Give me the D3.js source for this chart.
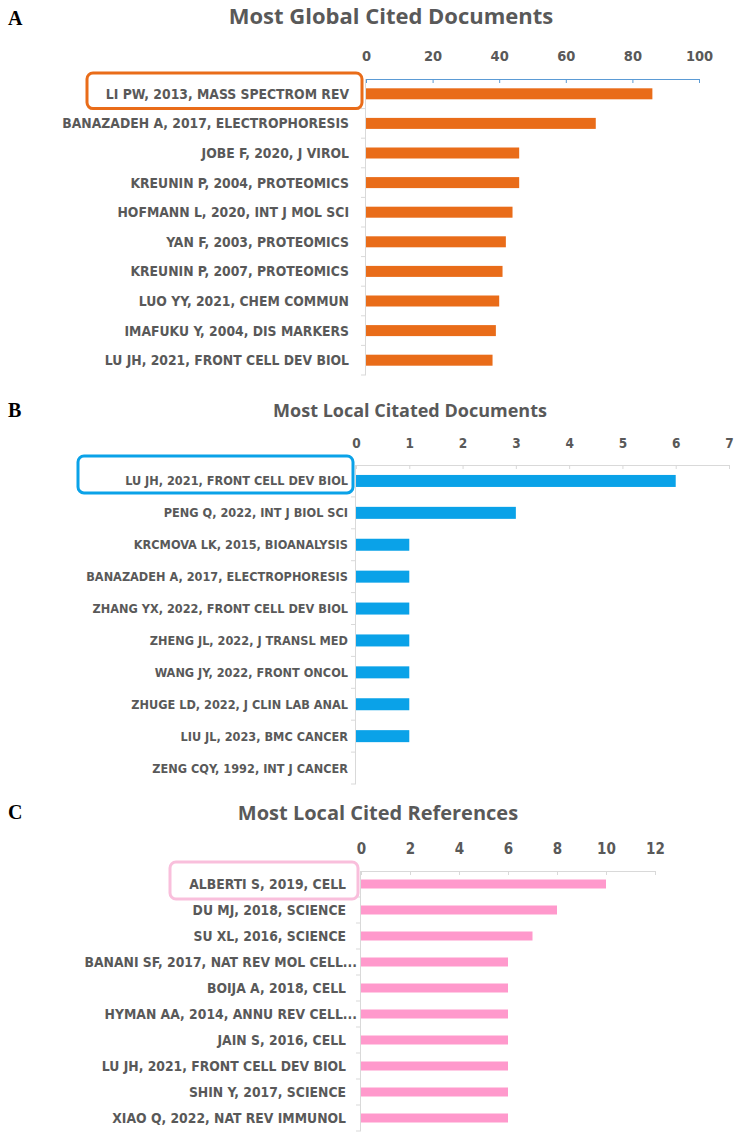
<!DOCTYPE html>
<html>
<head>
<meta charset="utf-8">
<script src="https://cdn.jsdelivr.net/npm/d3@7"></script>
<style>
  body { margin: 0; background: #fff; }
  svg { display: block; }
  .lab { font-family: "Liberation Sans Narrow", "DejaVu Sans Condensed", "Arial Narrow", sans-serif; font-weight: bold; fill: #595959; }
  .letter { font-family: "Liberation Serif", "Times New Roman", serif; font-weight: bold; fill: #000; }
</style>
</head>
<body>
<svg id="chart" width="734" height="1134"></svg>
<script>
// panel A
const globalDocs = [
  'LI PW, 2013, MASS SPECTROM REV',
  'BANAZADEH A, 2017, ELECTROPHORESIS',
  'JOBE F, 2020, J VIROL',
  'KREUNIN P, 2004, PROTEOMICS',
  'HOFMANN L, 2020, INT J MOL SCI',
  'YAN F, 2003, PROTEOMICS',
  'KREUNIN P, 2007, PROTEOMICS',
  'LUO YY, 2021, CHEM COMMUN',
  'IMAFUKU Y, 2004, DIS MARKERS',
  'LU JH, 2021, FRONT CELL DEV BIOL'
]
const globalCites = [86, 69, 46, 46, 44, 42, 41, 40, 39, 38]
const globalTicks = [0, 20, 40, 60, 80, 100]

// panel B
const localDocs = [
  'LU JH, 2021, FRONT CELL DEV BIOL',
  'PENG Q, 2022, INT J BIOL SCI',
  'KRCMOVA LK, 2015, BIOANALYSIS',
  'BANAZADEH A, 2017, ELECTROPHORESIS',
  'ZHANG YX, 2022, FRONT CELL DEV BIOL',
  'ZHENG JL, 2022, J TRANSL MED',
  'WANG JY, 2022, FRONT ONCOL',
  'ZHUGE LD, 2022, J CLIN LAB ANAL',
  'LIU JL, 2023, BMC CANCER',
  'ZENG CQY, 1992, INT J CANCER'
]
const localCites = [6, 3, 1, 1, 1, 1, 1, 1, 1, 0]
const localTicks = [0, 1, 2, 3, 4, 5, 6, 7]

// panel C
const localRefs = [
  'ALBERTI S, 2019, CELL',
  'DU MJ, 2018, SCIENCE',
  'SU XL, 2016, SCIENCE',
  'BANANI SF, 2017, NAT REV MOL CELL...',
  'BOIJA A, 2018, CELL',
  'HYMAN AA, 2014, ANNU REV CELL...',
  'JAIN S, 2016, CELL',
  'LU JH, 2021, FRONT CELL DEV BIOL',
  'SHIN Y, 2017, SCIENCE',
  'XIAO Q, 2022, NAT REV IMMUNOL'
]
const refCites = [10, 8, 7, 6, 6, 6, 6, 6, 6, 6]
const refTicks = [0, 2, 4, 6, 8, 10, 12]

const panels = [
  {
    letter: 'A', title: 'Most Global Cited Documents', titleSize: 22, titleX: 391, titleY: 15, letterY: 18,
    labels: globalDocs, values: globalCites, ticks: globalTicks,
    x0: 366, x1: 699, top: 79, bottom: 375, labelEnd: 349, font: 13.8, tickFont: 14.5, barH: 11, tickPad: 18,
    color: '#e96c19', axisColor: '#5b9bd5', box: [87, 362, -6, 0], boxColor: '#e96c19'
  },
  {
    letter: 'B', title: 'Most Local Citated Documents', titleSize: 18, titleX: 410, titleY: 410, letterY: 410,
    labels: localDocs, values: localCites, ticks: localTicks,
    x0: 356, x1: 729, top: 465, bottom: 784, labelEnd: 348, font: 12.6, tickFont: 13.5, barH: 12, tickPad: 17,
    color: '#0aa2e8', axisColor: '#d9d9d9', box: [78, 353, -9, -4], boxColor: '#0aa2e8'
  },
  {
    letter: 'C', title: 'Most Local Cited References', titleSize: 20, titleX: 378, titleY: 812, letterY: 812,
    labels: localRefs, values: refCites, ticks: refTicks,
    x0: 361, x1: 655, top: 871, bottom: 1131, labelEnd: 346, font: 13.8, tickFont: 15, barH: 9, tickPad: 17,
    color: '#ff99cc', axisColor: '#d9d9d9', box: [170, 358, -9, 2], boxColor: '#f9bfdc'
  }
]

const svg = d3.select('#chart')

panels.forEach(p => {
  const g = svg.append('g')

  const x = d3.scaleLinear()
    .domain([0, d3.max(p.ticks)])
    .range([p.x0, p.x1])

  const y = d3.scaleBand()
    .domain(p.labels)
    .range([p.top, p.bottom])

  g.append('text')
    .attr('class', 'letter')
    .attr('x', 8)
    .attr('y', p.letterY)
    .attr('dominant-baseline', 'central')
    .style('font-size', '20px')
    .text(p.letter)

  g.append('text')
    .attr('class', 'lab')
    .attr('x', p.titleX)
    .attr('y', p.titleY)
    .attr('text-anchor', 'middle')
    .attr('dominant-baseline', 'central')
    .style('font-family', '"Open Sans", sans-serif')
    .style('font-size', p.titleSize + 'px')
    .text(p.title)

  // y axis line with ticks at band edges
  g.append('line')
    .attr('x1', p.x0 - 0.5).attr('x2', p.x0 - 0.5)
    .attr('y1', p.top).attr('y2', p.bottom)
    .attr('stroke', '#d9d9d9')
  g.selectAll('.edge')
    .data(p.labels.map(d => y(d)).concat([p.bottom]).slice(1))
    .enter().append('line')
    .attr('x1', p.x0 - 5).attr('x2', p.x0)
    .attr('y1', d => d).attr('y2', d => d)
    .attr('stroke', '#d9d9d9')

  g.selectAll('.bar')
    .data(p.values)
    .enter().append('rect')
    .attr('x', x(0))
    .attr('y', (d, i) => y(p.labels[i]) + y.bandwidth() / 2 - p.barH / 2)
    .attr('width', d => x(d) - x(0))
    .attr('height', p.barH)
    .attr('fill', p.color)

  g.selectAll('.cat')
    .data(p.labels)
    .enter().append('text')
    .attr('class', 'lab')
    .attr('x', d => d.endsWith('...') ? p.x0 - 4 : p.labelEnd)
    .attr('y', d => y(d) + y.bandwidth() / 2)
    .attr('text-anchor', 'end')
    .attr('dominant-baseline', 'central')
    .style('font-size', p.font + 'px')
    .text(d => d)

  const axis = g.append('g')
    .attr('transform', `translate(0,${p.top})`)
    .call(d3.axisTop(x)
      .tickValues(p.ticks)
      .tickFormat(d3.format('d'))
      .tickSizeInner(-4)
      .tickSizeOuter(-4)
      .tickPadding(p.tickPad))
  axis.select('.domain').attr('stroke', p.axisColor)
  axis.selectAll('.tick line').attr('stroke', p.axisColor)
  axis.selectAll('.tick text')
    .attr('class', 'lab')
    .style('font-size', p.tickFont + 'px')

  // highlight round box on the top category
  g.append('rect')
    .attr('x', p.box[0])
    .attr('y', p.top + p.box[2])
    .attr('width', p.box[1] - p.box[0])
    .attr('height', y.bandwidth() - p.box[2] + p.box[3])
    .attr('rx', 6)
    .attr('fill', 'none')
    .attr('stroke', p.boxColor)
    .attr('stroke-width', 3)
})
</script>
</body>
</html>
